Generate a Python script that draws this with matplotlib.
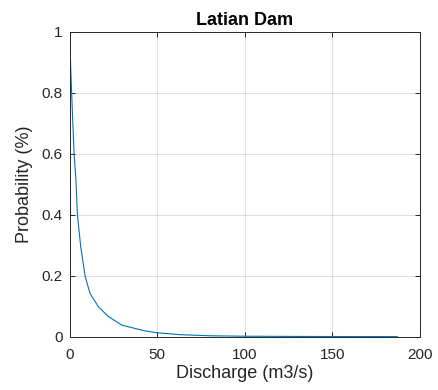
import matplotlib
matplotlib.use("Agg")
import matplotlib.pyplot as plt

discharge = [0, 1.0, 2.6, 3.7, 4.5, 6.4, 8.9, 11.7, 16.5, 22.2, 29.8, 34.6, 43, 49.8, 63, 80, 100, 130, 160, 187]
probability = [1.0, 0.83, 0.60, 0.51, 0.40, 0.295, 0.198, 0.142, 0.098, 0.066, 0.038, 0.031, 0.019, 0.013, 0.0066, 0.003, 0.0015, 0.0008, 0.0004, 0.0002]
xticks = [0, 50, 100, 150, 200]
yticks = [0, 0.2, 0.4, 0.6, 0.8, 1]
ytick_labels = ["0", "0.2", "0.4", "0.6", "0.8", "1"]

plt.rcParams['font.family'] = ['Liberation Sans', 'DejaVu Sans']
fig = plt.figure(figsize=(4.38, 3.90), dpi=100)
ax = fig.add_axes([0.1587, 0.1367, 0.8003, 0.782])
ax.plot(discharge, probability, color='#0072BD', linewidth=0.8)
ax.set_xlim(0, 200)
ax.set_ylim(0, 1)
ax.set_xticks(xticks)
ax.set_yticks(yticks)
ax.set_yticklabels(ytick_labels)
ax.grid(True, color='#262626', alpha=0.15, linewidth=0.7)
ax.set_axisbelow(True)
ax.tick_params(direction='in', length=3.5, width=0.7, top=True, right=True,
               labelsize=11, colors='#262626')
ax.tick_params(axis='x', pad=8)
ax.tick_params(axis='y', pad=5)
for s in ax.spines.values():
    s.set_color('#262626')
    s.set_linewidth(0.7)
ax.set_xlabel('Discharge (m3/s)', fontsize=13, color='#262626', labelpad=2)
ax.set_ylabel('Probability (%)', fontsize=13, color='#262626', labelpad=6)
ax.set_title('Latian Dam', fontsize=13, fontweight='bold', color='black', pad=5)
fig.savefig('out.png', dpi=100)
